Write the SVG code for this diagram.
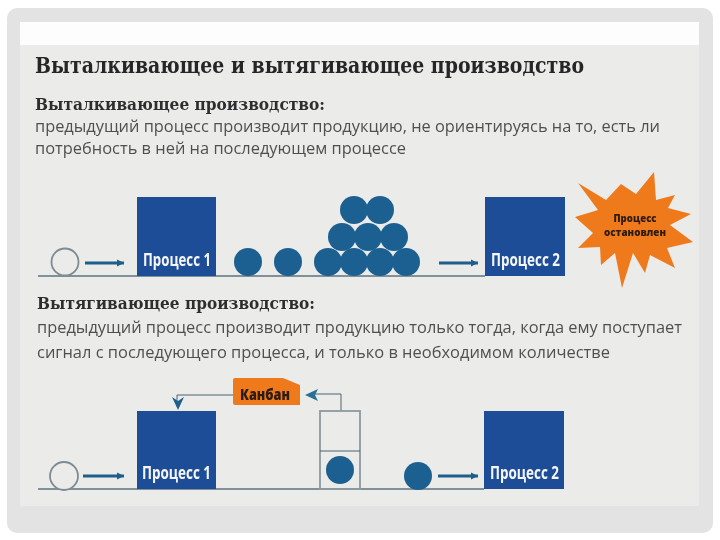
<svg xmlns="http://www.w3.org/2000/svg" width="720" height="540" viewBox="0 0 720 540">
<defs>
<filter id="soft" x="-5%" y="-5%" width="110%" height="110%"><feGaussianBlur stdDeviation="0.55"/></filter>
<marker id="head" markerWidth="9" markerHeight="9" refX="7" refY="4" orient="auto" markerUnits="userSpaceOnUse"><path d="M0,0.5 L7,4 L0,7.5 Z" fill="#1f5f8b"/></marker>
</defs>
<style>
.ball{fill:#1f6092}
.open{fill:#ebebea;stroke:#7d8c92;stroke-width:1.8}
.box{fill:#1f4e96}
.base{stroke:#7f9299;stroke-width:1.8;fill:none}
.flow{stroke:#1f5f8b;stroke-width:3;fill:none;marker-end:url(#head)}
.thin{stroke:#4a6470;stroke-width:1;fill:none}
.cont{stroke:#8c9aa0;stroke-width:1.8;fill:none}
.lbl{font-family:"Open Sans","Liberation Sans",sans-serif;font-weight:700;fill:#f4f6fa;font-size:17px}
.dark{font-family:"Open Sans","Liberation Sans",sans-serif;font-weight:800;fill:#2e1a0c}
.h1{font-family:"DejaVu Serif",serif;font-weight:700;font-size:22px;fill:#262626}
.h2{font-family:"DejaVu Serif",serif;font-weight:700;font-size:17px;fill:#2e2e2e}
.body{font-family:"Open Sans","Liberation Sans",sans-serif;font-size:16.5px;fill:#505050}
</style>
<rect width="720" height="540" fill="#ffffff"/>
<g filter="url(#soft)">
<rect x="7" y="8" width="706" height="525" rx="10" fill="#e3e3e3"/>
<rect x="20" y="45" width="679" height="461" fill="#ebebea"/>
<rect x="20" y="22" width="679" height="23" fill="#fdfdfd"/>

<text class="h1" x="35" y="73" textLength="549" lengthAdjust="spacingAndGlyphs">Выталкивающее и вытягивающее производство</text>
<text class="h2" x="35" y="110" textLength="290" lengthAdjust="spacingAndGlyphs">Выталкивающее производство:</text>
<text class="body" x="35" y="132" textLength="625" lengthAdjust="spacingAndGlyphs">предыдущий процесс производит продукцию, не ориентируясь на то, есть ли</text>
<text class="body" x="35" y="154" textLength="371" lengthAdjust="spacingAndGlyphs">потребность в ней на последующем процессе</text>
<text class="h2" x="37" y="309" textLength="278" lengthAdjust="spacingAndGlyphs">Вытягивающее производство:</text>
<text class="body" x="37" y="333" textLength="645" lengthAdjust="spacingAndGlyphs">предыдущий процесс производит продукцию только тогда, когда ему поступает</text>
<text class="body" x="37" y="358" textLength="573" lengthAdjust="spacingAndGlyphs">сигнал с последующего процесса, и только в необходимом количестве</text>

<g id="connectors">
<path class="base" d="M38 276H485"/>
<path class="flow" d="M85 263H124"/>
<path class="flow" d="M439 263H478"/>
<path class="base" d="M38 489H484"/>
<path class="flow" d="M83 476H124"/>
<path class="flow" d="M438 476H478"/>
<path class="thin" d="M233 395H177V404"/>
<path d="M172 397L178 410L184 397L178 401Z" fill="#1f5f8b"/>
<path class="thin" d="M341 411V394H314"/>
<path d="M305 395L318 389L315 395L318 401Z" fill="#2a7092"/>
</g>

<g id="supply-top"><circle class="open" cx="65" cy="262" r="13.5"/></g>
<g id="process-1-top"><rect class="box" x="137" y="197" width="79" height="79"/><text class="lbl" x="143" y="266" textLength="68" lengthAdjust="spacingAndGlyphs">Процесс 1</text></g>
<g id="stock-top">
<circle class="ball" cx="248" cy="262" r="14"/><circle class="ball" cx="288" cy="262" r="14"/>
<circle class="ball" cx="328" cy="262" r="14"/><circle class="ball" cx="354" cy="262" r="14"/><circle class="ball" cx="380" cy="262" r="14"/><circle class="ball" cx="406" cy="262" r="14"/>
<circle class="ball" cx="342" cy="237" r="14"/><circle class="ball" cx="368" cy="237" r="14"/><circle class="ball" cx="394" cy="237" r="14"/>
<circle class="ball" cx="354" cy="210" r="14"/><circle class="ball" cx="380" cy="210" r="14"/>
</g>
<g id="process-2-top"><rect class="box" x="485" y="197" width="80" height="79"/><text class="lbl" x="491" y="266" textLength="69" lengthAdjust="spacingAndGlyphs">Процесс 2</text></g>
<g id="stopped">
<path d="M578 183L606 200L621 184L636 194L654 172L656 200L675 195L668 208L691 214L670 225L693 242L667 248L675 268L650 255L645 273L633 253L622 288L615 253L601 265L600 247L578 248L593 233L575 217L598 210Z" fill="#ee7a1e"/>
<text class="dark" x="635" y="222" font-size="10.5" text-anchor="middle" textLength="43" lengthAdjust="spacingAndGlyphs">Процесс</text>
<text class="dark" x="635" y="236" font-size="10.5" text-anchor="middle" textLength="62" lengthAdjust="spacingAndGlyphs">остановлен</text>
</g>

<g id="supply-bottom"><circle class="open" cx="64" cy="476" r="14"/></g>
<g id="process-1-bottom"><rect class="box" x="137" y="411" width="79" height="78"/><text class="lbl" x="142" y="479" textLength="69" lengthAdjust="spacingAndGlyphs">Процесс 1</text></g>
<g id="kanban">
<path d="M235 378H283L300 385V405H235Q233 405 233 403V380Q233 378 235 378Z" fill="#ee7a1e"/>
<text class="dark" x="240" y="400" font-size="15" textLength="50" lengthAdjust="spacingAndGlyphs">Канбан</text>
</g>
<g id="container">
<rect class="cont" x="320" y="411" width="40" height="78"/>
<path class="thin" d="M320 451H360"/>
<circle class="ball" cx="340" cy="470" r="14"/>
</g>
<g id="item-bottom"><circle class="ball" cx="418" cy="476" r="14"/></g>
<g id="process-2-bottom"><rect class="box" x="484" y="411" width="80" height="78"/><text class="lbl" x="490" y="479" textLength="69" lengthAdjust="spacingAndGlyphs">Процесс 2</text></g>
</g>
</svg>
